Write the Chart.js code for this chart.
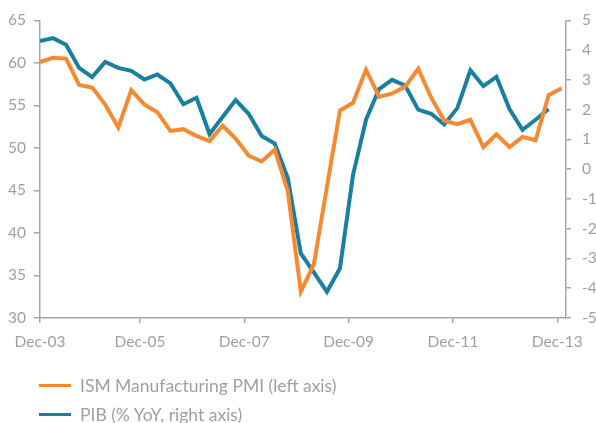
<!DOCTYPE html>
<html>
<head>
<meta charset="utf-8">
<script src="https://cdn.jsdelivr.net/npm/chart.js@4/dist/chart.umd.min.js"></script>
<style>
  html, body { margin: 0; padding: 0; background: #fff; }
  .wrap { position: relative; width: 596px; height: 423px; }
  canvas { display: block; }
  .legend { position: absolute; left: 39px; top: 371px; font-family: Lato, "Open Sans", sans-serif; font-size: 17.5px; color: #9da1a6; }
  .legend div { display: flex; align-items: center; height: 29px; }
  .legend span.swatch { display: inline-block; width: 32px; height: 3px; margin-right: 9px; }
</style>
</head>
<body>
<div class="wrap">
  <canvas id="myChart" width="596" height="423"></canvas>
  <div class="legend">
    <div><span class="swatch" style="background:#f58a32"></span>ISM Manufacturing PMI (left axis)</div>
    <div><span class="swatch" style="background:#1a80a2"></span>PIB (% YoY, right axis)</div>
  </div>
</div>
<script>
// quarterly readings
const quarters = [
  "Jan-04", "Apr-04", "Jul-04", "Oct-04", "Jan-05", "Apr-05", "Jul-05", "Oct-05",
  "Jan-06", "Apr-06", "Jul-06", "Oct-06", "Jan-07", "Apr-07", "Jul-07", "Oct-07",
  "Jan-08", "Apr-08", "Jul-08", "Oct-08", "Jan-09", "Apr-09", "Jul-09", "Oct-09",
  "Jan-10", "Apr-10", "Jul-10", "Oct-10", "Jan-11", "Apr-11", "Jul-11", "Oct-11",
  "Jan-12", "Apr-12", "Jul-12", "Oct-12", "Jan-13", "Apr-13", "Jul-13", "Oct-13",
  "Jan-14"
];
const ismPmi = [
  60.1, 60.6, 60.5, 57.4, 57.1, 55.1, 52.4, 56.8, 55.1, 54.2,
  52.0, 52.2, 51.4, 50.8, 52.6, 51.1, 49.1, 48.4, 49.8, 44.9,
  33.1, 36.3, 45.4, 54.4, 55.3, 59.2, 56.0, 56.4, 57.2, 59.3,
  55.9, 53.2, 52.8, 53.3, 50.1, 51.6, 50.1, 51.3, 50.9, 56.2,
  57.0
];
const pibYoY = [
  4.3, 4.4, 4.18, 3.4, 3.09, 3.6, 3.4, 3.3, 3.01, 3.18,
  2.88, 2.18, 2.4, 1.18, 1.75, 2.32, 1.86, 1.11, 0.86, -0.3,
  -2.83, -3.47, -4.12, -3.33, -0.2, 1.66, 2.69, 3.0, 2.81, 2.0,
  1.86, 1.5, 2.05, 3.32, 2.79, 3.1, 2.02, 1.32, 1.66, 2.02
];
const xTickLabels = ["Dec-03", "Dec-05", "Dec-07", "Dec-09", "Dec-11", "Dec-13"];
const leftTicks = [30, 35, 40, 45, 50, 55, 60, 65];
const rightTicks = [-5, -4, -3, -2, -1, 0, 1, 2, 3, 4, 5];

const MONTHS = ["Jan","Feb","Mar","Apr","May","Jun","Jul","Aug","Sep","Oct","Nov","Dec"];
// months counted from Dec-03 (= 0)
function monthNo(label) {
  const [m, y] = label.split("-");
  return (parseInt(y, 10) - 3) * 12 + MONTHS.indexOf(m) + 1 - 12;
}

const ORANGE = "#f58a32";
const BLUE = "#1a80a2";
const AXIS = "#a3a7ab";
const TEXT = "#9da1a6";
const FONT = { family: "Lato, 'Open Sans', sans-serif", size: 15.5 };

const ismPoints = ismPmi.map((v, i) => ({ x: monthNo(quarters[i]), y: v }));
const pibPoints = pibYoY.map((v, i) => ({ x: monthNo(quarters[i]), y: v }));

const axisGrid = {
  display: true,
  drawOnChartArea: false,
  drawTicks: true,
  tickLength: 6,
  color: AXIS,
  lineWidth: 1.5
};
const axisBorder = { display: true, color: AXIS, width: 1.5 };

new Chart(document.getElementById("myChart").getContext("2d"), {
  type: "line",
  data: {
    datasets: [
      {
        label: "ISM Manufacturing PMI (left axis)",
        data: ismPoints,
        yAxisID: "yLeft",
        borderColor: ORANGE,
        backgroundColor: ORANGE,
        borderWidth: 4,
        pointRadius: 0,
        tension: 0
      },
      {
        label: "PIB (% YoY, right axis)",
        data: pibPoints,
        yAxisID: "yRight",
        borderColor: BLUE,
        backgroundColor: BLUE,
        borderWidth: 4,
        pointRadius: 0,
        tension: 0
      }
    ]
  },
  options: {
    responsive: false,
    animation: false,
    layout: { padding: { top: 18, bottom: 65, left: 0, right: 0 } },
    plugins: { legend: { display: false }, tooltip: { enabled: false } },
    scales: {
      x: {
        type: "linear",
        min: 1,
        max: 122,
        grid: { ...axisGrid, tickLength: 5 },
        border: axisBorder,
        afterBuildTicks: (axis) => {
          axis.ticks = xTickLabels.map((l) => ({ value: Math.max(monthNo(l), axis.min) }));
        },
        afterFit: (axis) => { axis.height = 40; },
        ticks: {
          color: TEXT,
          font: FONT,
          padding: 10,
          maxRotation: 0,
          autoSkip: false,
          callback: (v, i) => xTickLabels[i]
        }
      },
      yLeft: {
        position: "left",
        min: 30,
        max: 65,
        grid: axisGrid,
        border: axisBorder,
        afterBuildTicks: (axis) => { axis.ticks = leftTicks.map((v) => ({ value: v })); },
        afterFit: (axis) => { axis.width = 40; },
        ticks: { color: TEXT, font: FONT, padding: 8 }
      },
      yRight: {
        position: "right",
        min: -5,
        max: 5,
        grid: { ...axisGrid, tickLength: 5 },
        border: axisBorder,
        afterBuildTicks: (axis) => { axis.ticks = rightTicks.map((v) => ({ value: v })); },
        afterFit: (axis) => { axis.width = 30; },
        ticks: { color: TEXT, font: FONT, padding: 11 }
      }
    }
  }
});
</script>
</body>
</html>
